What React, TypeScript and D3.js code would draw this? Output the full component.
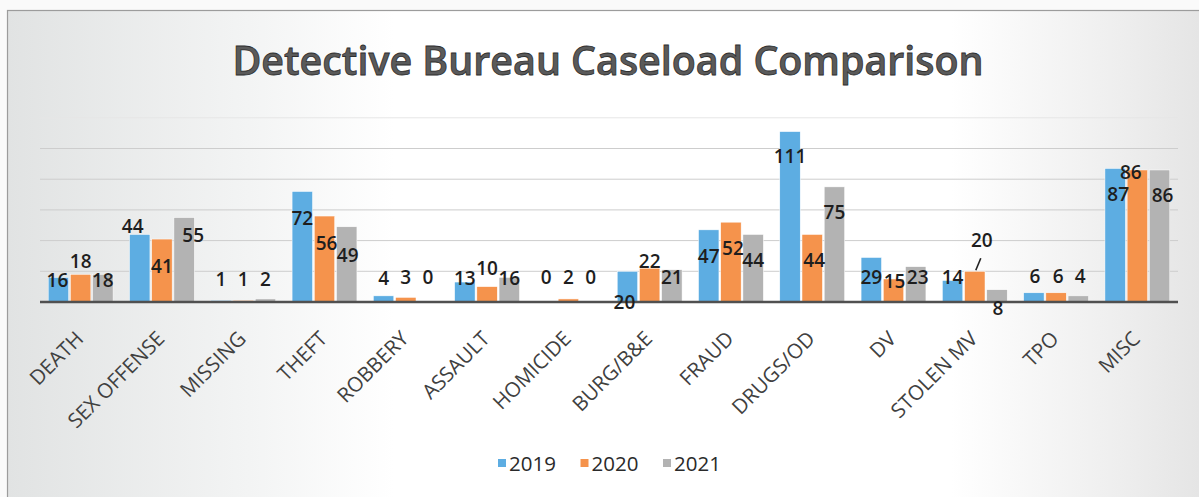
import React from "react";
import * as d3 from "d3";

const categories = ["DEATH", "SEX OFFENSE", "MISSING", "THEFT", "ROBBERY", "ASSAULT", "HOMICIDE", "BURG/B&E", "FRAUD", "DRUGS/OD", "DV", "STOLEN MV", "TPO", "MISC"];
const seriesNames = ["2019", "2020", "2021"];
const values2019 = [16, 44, 1, 72, 4, 13, 0, 20, 47, 111, 29, 14, 6, 87];
const values2020 = [18, 41, 1, 56, 3, 10, 2, 22, 52, 44, 15, 20, 6, 86];
const values2021 = [18, 55, 2, 49, 0, 16, 0, 21, 44, 75, 23, 8, 4, 86];
const gridTicks = [20, 40, 60, 80, 100, 120];
const title = "Detective Bureau Caseload Comparison";

// label placement offsets (pixels, relative to bar centre / bar top) mimicking the manual placement
const labelOffsets2019 = [[-1, 10], [-7, -1], [0, -14], [0, 34], [0, -11], [0, 3], [0, -18], [-3, 38], [0, 33], [0, 31], [0, 26.5], [0, 3.5], [1, -10], [3, 32.5]];
const labelOffsets2020 = [[0, -6], [0, 34], [0, -14], [2, 34], [0, -13], [0, -12], [0, -15], [0, 0], [2, 33], [2, 32.5], [1, 9], [7, -24], [2, -10], [-6.5, 9]];
const labelOffsets2021 = [[0, 13], [9, 24], [0, -13], [1, 35], [0, -18], [0, 8], [0, -18], [0, 14], [0, 32.5], [0, 32], [2, 17], [1, 25], [2, -13], [3, 32]];

const seriesValues = [values2019, values2020, values2021];
const seriesOffsets = [labelOffsets2019, labelOffsets2020, labelOffsets2021];
const colors = ["#5DADE2", "#F5934C", "#B3B3B3"];

const W = 1199;
const H = 497;
const plotLeft = 40;
const plotRight = 1178;
const baseY = 302;
const pxPerUnit = 1.535;

export default function App() {
  const x0 = d3.scaleBand<string>().domain(categories).range([plotLeft, plotRight]).paddingInner(0).paddingOuter(0);
  const x1 = d3.scaleBand<string>().domain(seriesNames).range([0, x0.bandwidth()]).paddingInner(0.08).paddingOuter(0.37);
  const y = d3.scaleLinear().domain([0, 120]).range([baseY, baseY - 120 * pxPerUnit]);

  const font = "'Open Sans', 'DejaVu Sans', sans-serif";

  return (
    <svg width={W} height={H} style={{ position: "absolute", left: 0, top: 0, display: "block" }} xmlns="http://www.w3.org/2000/svg">
      <defs>
        <linearGradient id="bg" x1="0" y1="0" x2="1" y2="0">
          <stop offset="0" stopColor="#e1e3e3" />
          <stop offset="0.2" stopColor="#f3f4f4" />
          <stop offset="0.32" stopColor="#ffffff" />
          <stop offset="0.78" stopColor="#ffffff" />
          <stop offset="0.92" stopColor="#eeeeee" />
          <stop offset="1" stopColor="#e3e3e3" />
        </linearGradient>
      </defs>
      <rect x={0} y={0} width={W} height={H} fill="#fafafa" />
      <rect x={7.5} y={10.5} width={W + 10} height={H + 10} fill="url(#bg)" stroke="#9c9c9c" strokeWidth={1.2} />

      {/* title */}
      <text x={608} y={75} textAnchor="middle" fontFamily={font} fontSize={39} fontWeight={600}
        fill="#5a5a5a" stroke="#2e2e2e" strokeWidth={0.8} textLength={751} lengthAdjust="spacingAndGlyphs">{title}</text>

      {/* gridlines */}
      {gridTicks.map((t) => (
        <line key={t} x1={plotLeft} x2={plotRight} y1={y(t)} y2={y(t)} stroke={t === 120 ? "#e6e6e6" : "#cdcdcd"} strokeWidth={1} />
      ))}

      {/* bars */}
      {seriesNames.map((s, si) => (
        <g key={s}>
          {categories.map((c, ci) => {
            const v = seriesValues[si][ci];
            const bx = (x0(c) ?? 0) + (x1(s) ?? 0);
            return (
              <rect key={c} x={bx} y={y(v)} width={x1.bandwidth()} height={baseY - y(v)} fill={colors[si]} stroke="#ffffff" strokeWidth={0.5} />
            );
          })}
        </g>
      ))}

      {/* axis baseline */}
      <line x1={plotLeft} x2={plotRight} y1={baseY} y2={baseY} stroke="#505050" strokeWidth={2.6} />

      {/* data labels */}
      {seriesNames.map((s, si) => (
        <g key={"l" + s}>
          {categories.map((c, ci) => {
            const v = seriesValues[si][ci];
            const [dx, dy] = seriesOffsets[si][ci];
            const cx = (x0(c) ?? 0) + (x1(s) ?? 0) + x1.bandwidth() / 2;
            return (
              <text key={c} x={cx + dx} y={y(v) + dy} textAnchor="middle" fontFamily={font} fontSize={19} fontWeight={600} fill="#1e1e1e">{v}</text>
            );
          })}
        </g>
      ))}

      {/* leader line for STOLEN MV 2020 */}
      {(() => {
        const c = "STOLEN MV";
        const cx = (x0(c) ?? 0) + (x1("2020") ?? 0) + x1.bandwidth() / 2;
        const top = y(values2020[categories.indexOf(c)]);
        return <line x1={cx + 1} y1={top - 1} x2={cx + 6} y2={top - 13} stroke="#222" strokeWidth={1.6} />;
      })()}

      {/* category labels */}
      {categories.map((c) => {
        const cx = (x0(c) ?? 0) + x0.bandwidth() / 2 + 4;
        const cy = 340;
        return (
          <text key={c} x={cx} y={cy} textAnchor="end" transform={`rotate(-45 ${cx} ${cy})`} fontFamily={font} fontSize={20.5} fill="#404040">{c}</text>
        );
      })}

      {/* legend */}
      {seriesNames.map((s, si) => {
        const lx = 498 + si * 82.5;
        return (
          <g key={"lg" + s}>
            <rect x={lx} y={459} width={8} height={8} fill={colors[si]} />
            <text x={lx + 11} y={463} dominantBaseline="central" fontFamily={font} fontSize={20.5} fill="#2a2a2a">{s}</text>
          </g>
        );
      })}
    </svg>
  );
}
